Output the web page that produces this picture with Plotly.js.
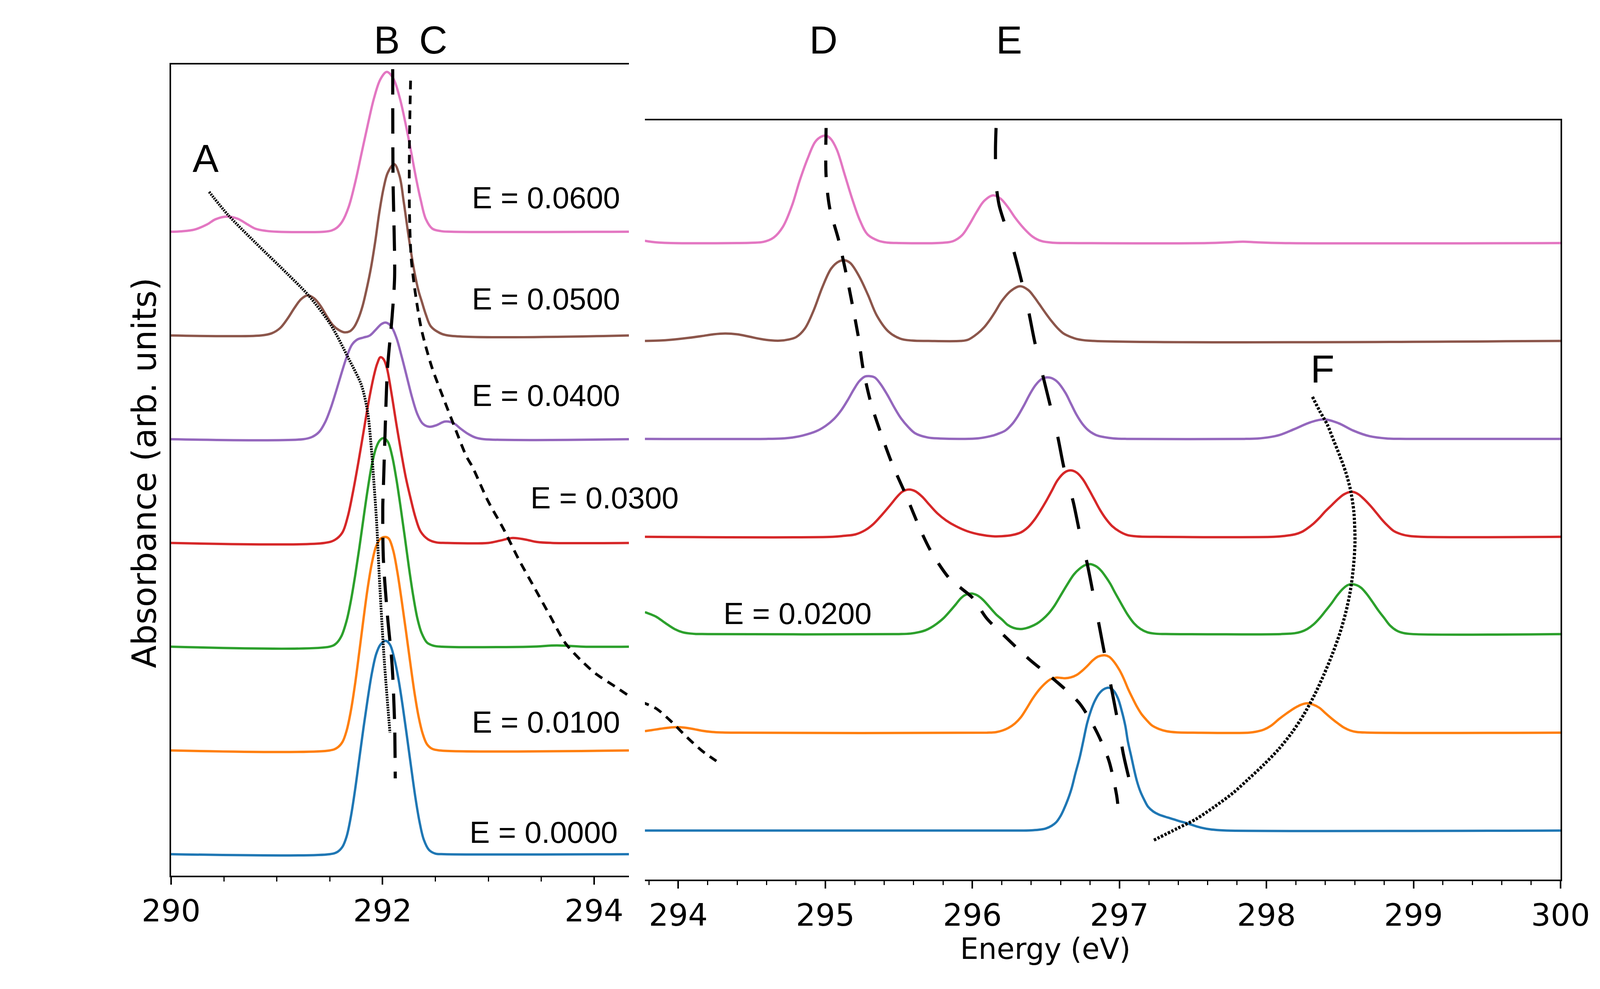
<!DOCTYPE html>
<html>
<head>
<meta charset="utf-8">
<script src="https://cdn.plot.ly/plotly-3.0.1.min.js"></script>
<style>
html,body{margin:0;padding:0;background:#fff;}
#chart{width:4331px;height:2531px;}
</style>
</head>
<body>
<div id="chart"></div>
<script>
// ---------------- data ----------------
// Left panel (290 - 294.3 eV), curves offset by 1 unit each
const leftPinkX = [290.00, 290.10, 290.22, 290.34, 290.42, 290.53, 290.63, 290.72, 290.80, 290.90, 291.00, 291.45, 291.52, 291.57, 291.62, 291.68, 291.74, 291.80, 291.86, 291.92, 291.98, 292.04, 292.10, 292.16, 292.22, 292.27, 292.32, 292.36, 292.41, 292.47, 292.55, 292.65, 294.33];
const leftPinkY = [6.00, 6.004, 6.02, 6.07, 6.12, 6.146, 6.125, 6.072, 6.028, 6.008, 6.0, 6.0, 6.012, 6.04, 6.10, 6.24, 6.47, 6.75, 7.03, 7.29, 7.47, 7.54, 7.48, 7.30, 7.03, 6.77, 6.50, 6.31, 6.12, 6.03, 6.006, 6.0, 6.0];

const leftBrownX = [290.00, 290.85, 290.95, 291.03, 291.10, 291.17, 291.23, 291.29, 291.35, 291.41, 291.47, 291.53, 291.59, 291.64, 291.69, 291.73, 291.77, 291.81, 291.85, 291.89, 291.93, 291.97, 292.01, 292.05, 292.11, 292.16, 292.20, 292.25, 292.30, 292.34, 292.37, 292.41, 292.455, 292.53, 292.62, 294.33];
const leftBrownY = [5.00, 5.00, 5.02, 5.07, 5.16, 5.27, 5.35, 5.386, 5.36, 5.29, 5.19, 5.10, 5.05, 5.03, 5.04, 5.08, 5.16, 5.28, 5.45, 5.65, 5.90, 6.19, 6.42, 6.57, 6.652, 6.54, 6.29, 5.93, 5.62, 5.43, 5.33, 5.20, 5.09, 5.03, 5.0, 5.0];

const leftPurpleX = [290.00, 291.25, 291.33, 291.40, 291.46, 291.51, 291.56, 291.61, 291.66, 291.71, 291.76, 291.82, 291.88, 291.94, 291.99, 292.03, 292.08, 292.13, 292.18, 292.23, 292.28, 292.33, 292.38, 292.44, 292.51, 292.59, 292.67, 292.74, 292.81, 292.88, 292.96, 294.33];
const leftPurpleY = [4.00, 4.00, 4.02, 4.07, 4.17, 4.30, 4.46, 4.63, 4.79, 4.91, 4.96, 4.98, 5.00, 5.06, 5.11, 5.124, 5.09, 4.98, 4.80, 4.60, 4.40, 4.24, 4.15, 4.12, 4.135, 4.17, 4.155, 4.10, 4.05, 4.015, 4.0, 4.0];

const leftRedX = [290.00, 291.45, 291.55, 291.62, 291.67, 291.72, 291.77, 291.82, 291.87, 291.92, 291.95, 291.98, 292.01, 292.04, 292.08, 292.13, 292.18, 292.22, 292.265, 292.31, 292.36, 292.43, 292.51, 292.60, 293.00, 293.11, 293.23, 293.35, 293.46, 293.60, 294.33];
const leftRedY = [3.00, 3.00, 3.03, 3.10, 3.25, 3.49, 3.77, 4.07, 4.37, 4.62, 4.73, 4.79, 4.77, 4.69, 4.47, 4.15, 3.85, 3.63, 3.43, 3.25, 3.11, 3.035, 3.005, 3.0, 3.0, 3.022, 3.048, 3.033, 3.009, 3.0, 3.0];

const leftGreenX = [290.00, 291.50, 291.56, 291.61, 291.66, 291.70, 291.74, 291.78, 291.82, 291.86, 291.90, 291.94, 291.975, 292.01, 292.05, 292.09, 292.13, 292.17, 292.21, 292.25, 292.29, 292.33, 292.37, 292.42, 292.48, 292.56, 293.40, 293.65, 293.90, 294.33];
const leftGreenY = [2.00, 2.00, 2.03, 2.10, 2.25, 2.44, 2.68, 2.95, 3.24, 3.52, 3.76, 3.92, 3.99, 4.01, 3.975, 3.84, 3.62, 3.35, 3.06, 2.76, 2.49, 2.27, 2.13, 2.04, 2.01, 2.00, 2.00, 2.012, 2.00, 2.00];

const leftOrangeX = [290.00, 291.50, 291.57, 291.62, 291.66, 291.70, 291.74, 291.78, 291.82, 291.86, 291.90, 291.94, 291.98, 292.03, 292.06, 292.10, 292.14, 292.18, 292.22, 292.26, 292.30, 292.34, 292.38, 292.42, 292.47, 292.54, 294.33];
const leftOrangeY = [1.00, 1.00, 1.025, 1.08, 1.19, 1.38, 1.64, 1.95, 2.27, 2.57, 2.81, 2.97, 3.04, 3.057, 3.04, 2.93, 2.72, 2.45, 2.16, 1.86, 1.57, 1.33, 1.16, 1.06, 1.015, 1.00, 1.00];

const leftBlueX = [290.00, 291.50, 291.57, 291.62, 291.66, 291.70, 291.74, 291.78, 291.82, 291.86, 291.90, 291.94, 291.98, 292.03, 292.07, 292.11, 292.15, 292.19, 292.23, 292.27, 292.31, 292.35, 292.39, 292.44, 292.50, 292.58, 294.33];
const leftBlueY = [0.00, 0.00, 0.02, 0.07, 0.17, 0.36, 0.62, 0.92, 1.22, 1.50, 1.75, 1.93, 2.02, 2.056, 2.02, 1.89, 1.69, 1.43, 1.14, 0.84, 0.55, 0.31, 0.14, 0.04, 0.005, 0.00, 0.00];

// Right panel (293.8 - 300 eV)
const rightPinkX = [293.773, 293.82, 293.87, 293.95, 294.40, 294.50, 294.58, 294.648, 294.711, 294.774, 294.826, 294.879, 294.931, 294.973, 295.005, 295.036, 295.078, 295.131, 295.183, 295.236, 295.288, 295.362, 295.42, 295.50, 295.80, 295.87, 295.93, 295.98, 296.03, 296.08, 296.14, 296.19, 296.24, 296.29, 296.35, 296.41, 296.47, 296.55, 296.65, 297.60, 297.75, 297.84, 297.93, 298.10, 300.0];
const rightPinkY = [6.023, 6.012, 6.005, 6.0, 6.0, 6.003, 6.012, 6.055, 6.165, 6.386, 6.639, 6.860, 7.033, 7.087, 7.096, 7.065, 6.954, 6.702, 6.449, 6.228, 6.086, 6.023, 6.005, 6.0, 6.003, 6.02, 6.08, 6.19, 6.32, 6.43, 6.487, 6.455, 6.37, 6.26, 6.15, 6.065, 6.02, 6.003, 6.0, 6.0, 6.008, 6.014, 6.008, 6.0, 6.0];

const rightBrownX = [293.773, 293.87, 293.95, 294.06, 294.16, 294.24, 294.32, 294.40, 294.48, 294.56, 294.63, 294.69, 294.75, 294.80, 294.86, 294.92, 294.98, 295.04, 295.09, 295.13, 295.17, 295.23, 295.29, 295.35, 295.43, 295.51, 295.59, 295.70, 295.92, 295.97, 296.035, 296.08, 296.12, 296.16, 296.20, 296.26, 296.325, 296.38, 296.42, 296.455, 296.50, 296.54, 296.58, 296.62, 296.67, 296.71, 296.79, 300.0];
const rightBrownY = [5.00, 5.004, 5.012, 5.03, 5.05, 5.068, 5.076, 5.068, 5.045, 5.02, 5.006, 5.003, 5.015, 5.038, 5.125, 5.31, 5.55, 5.74, 5.81, 5.824, 5.795, 5.66, 5.47, 5.26, 5.095, 5.023, 5.004, 5.0, 5.0, 5.012, 5.076, 5.14, 5.218, 5.31, 5.408, 5.51, 5.559, 5.52, 5.45, 5.376, 5.28, 5.20, 5.13, 5.076, 5.04, 5.02, 5.003, 5.0];

const rightPurpleX = [293.773, 294.60, 294.70, 294.78, 294.843, 294.938, 295.004, 295.061, 295.108, 295.156, 295.194, 295.232, 295.270, 295.298, 295.336, 295.374, 295.422, 295.469, 295.516, 295.564, 295.611, 295.697, 295.78, 295.95, 296.04, 296.10, 296.143, 296.18, 296.224, 296.27, 296.308, 296.35, 296.392, 296.43, 296.47, 296.507, 296.54, 296.58, 296.633, 296.67, 296.707, 296.75, 296.791, 296.84, 296.896, 296.96, 297.05, 297.85, 297.94, 298.01, 298.09, 298.19, 298.30, 298.393, 298.49, 298.59, 298.70, 298.82, 298.95, 300.0];
const rightPurpleY = [4.00, 4.00, 4.004, 4.015, 4.033, 4.078, 4.135, 4.207, 4.292, 4.406, 4.506, 4.591, 4.637, 4.641, 4.627, 4.563, 4.449, 4.321, 4.207, 4.121, 4.057, 4.014, 4.004, 4.0, 4.006, 4.02, 4.035, 4.055, 4.085, 4.15, 4.23, 4.34, 4.46, 4.55, 4.61, 4.628, 4.62, 4.58, 4.47, 4.36, 4.25, 4.15, 4.085, 4.04, 4.018, 4.005, 4.0, 4.0, 4.004, 4.015, 4.04, 4.10, 4.17, 4.199, 4.16, 4.085, 4.028, 4.004, 4.0, 4.0];

const rightRedX = [293.773, 295.05, 295.127, 295.203, 295.270, 295.327, 295.384, 295.441, 295.488, 295.526, 295.569, 295.611, 295.659, 295.706, 295.763, 295.820, 295.887, 295.962, 296.048, 296.143, 296.20, 296.27, 296.33, 296.38, 296.42, 296.46, 296.50, 296.54, 296.58, 296.63, 296.67, 296.71, 296.75, 296.79, 296.83, 296.87, 296.91, 296.95, 297.00, 297.05, 297.12, 297.25, 298.05, 298.12, 298.193, 298.24, 298.277, 298.32, 298.361, 298.40, 298.445, 298.49, 298.529, 298.578, 298.62, 298.66, 298.708, 298.75, 298.781, 298.82, 298.865, 298.92, 298.97, 299.05, 300.0];
const rightRedY = [3.00, 3.00, 3.010, 3.024, 3.067, 3.131, 3.223, 3.323, 3.409, 3.463, 3.483, 3.466, 3.409, 3.330, 3.238, 3.169, 3.109, 3.059, 3.024, 3.005, 3.006, 3.018, 3.045, 3.10, 3.17, 3.26, 3.36, 3.47, 3.58, 3.66, 3.678, 3.655, 3.59, 3.49, 3.38, 3.27, 3.18, 3.11, 3.055, 3.02, 3.004, 3.0, 3.0, 3.008, 3.025, 3.05, 3.085, 3.135, 3.195, 3.26, 3.325, 3.39, 3.435, 3.46, 3.44, 3.39, 3.315, 3.24, 3.183, 3.12, 3.06, 3.025, 3.009, 3.0, 3.0];

const rightGreenX = [293.773, 293.81, 293.85, 293.91, 293.975, 294.03, 294.10, 294.20, 295.50, 295.58, 295.635, 295.68, 295.719, 295.76, 295.803, 295.85, 295.887, 295.92, 295.95, 295.993, 296.03, 296.07, 296.119, 296.16, 296.203, 296.24, 296.28, 296.325, 296.36, 296.392, 296.44, 296.476, 296.52, 296.56, 296.60, 296.644, 296.69, 296.728, 296.765, 296.802, 296.84, 296.875, 296.91, 296.938, 296.97, 297.00, 297.03, 297.058, 297.10, 297.142, 297.19, 297.25, 297.35, 298.10, 298.19, 298.235, 298.277, 298.32, 298.361, 298.40, 298.445, 298.48, 298.519, 298.55, 298.582, 298.615, 298.645, 298.68, 298.718, 298.76, 298.802, 298.84, 298.886, 298.93, 298.99, 300.0];
const rightGreenY = [2.231, 2.21, 2.184, 2.121, 2.058, 2.025, 2.01, 2.007, 2.007, 2.012, 2.026, 2.045, 2.074, 2.115, 2.168, 2.245, 2.31, 2.37, 2.405, 2.421, 2.405, 2.36, 2.279, 2.21, 2.153, 2.10, 2.07, 2.058, 2.065, 2.08, 2.115, 2.155, 2.22, 2.30, 2.40, 2.51, 2.615, 2.673, 2.71, 2.721, 2.70, 2.655, 2.585, 2.52, 2.43, 2.35, 2.27, 2.20, 2.115, 2.06, 2.025, 2.01, 2.007, 2.007, 2.015, 2.03, 2.058, 2.105, 2.168, 2.24, 2.326, 2.40, 2.468, 2.505, 2.516, 2.505, 2.478, 2.42, 2.342, 2.25, 2.168, 2.095, 2.042, 2.018, 2.007, 2.007];

const rightOrangeX = [293.773, 293.82, 293.87, 293.93, 293.99, 294.04, 294.10, 294.16, 294.23, 294.30, 294.40, 296.10, 296.16, 296.20, 296.245, 296.29, 296.33, 296.37, 296.41, 296.455, 296.50, 296.535, 296.57, 296.60, 296.63, 296.67, 296.71, 296.745, 296.78, 296.82, 296.855, 296.90, 296.93, 296.96, 297.00, 297.03, 297.058, 297.09, 297.121, 297.15, 297.184, 297.22, 297.268, 297.32, 297.39, 297.50, 297.88, 297.93, 297.983, 298.03, 298.088, 298.14, 298.193, 298.235, 298.277, 298.32, 298.361, 298.40, 298.445, 298.49, 298.529, 298.57, 298.613, 298.68, 300.0];
const rightOrangeY = [1.016, 1.026, 1.038, 1.05, 1.057, 1.052, 1.038, 1.02, 1.007, 1.002, 1.0, 1.0, 1.005, 1.02, 1.048, 1.095, 1.158, 1.25, 1.348, 1.44, 1.51, 1.548, 1.562, 1.56, 1.556, 1.565, 1.59, 1.63, 1.679, 1.74, 1.777, 1.790, 1.775, 1.73, 1.64, 1.55, 1.45, 1.35, 1.26, 1.19, 1.13, 1.075, 1.038, 1.015, 1.003, 1.0, 1.0, 1.01, 1.032, 1.07, 1.142, 1.20, 1.253, 1.285, 1.30, 1.285, 1.253, 1.20, 1.142, 1.09, 1.05, 1.022, 1.007, 1.001, 1.0];

const rightBlueX = [293.773, 296.35, 296.41, 296.46, 296.50, 296.54, 296.57, 296.60, 296.62, 296.65, 296.675, 296.70, 296.73, 296.755, 296.78, 296.805, 296.83, 296.86, 296.89, 296.93, 296.96, 296.99, 297.016, 297.04, 297.058, 297.08, 297.10, 297.12, 297.142, 297.17, 297.195, 297.23, 297.268, 297.31, 297.352, 297.40, 297.457, 297.51, 297.562, 297.62, 297.668, 297.73, 300.0];
const rightBlueY = [0.0, 0.0, 0.003, 0.01, 0.022, 0.05, 0.085, 0.15, 0.211, 0.32, 0.432, 0.58, 0.748, 0.92, 1.095, 1.22, 1.316, 1.395, 1.44, 1.458, 1.43, 1.35, 1.221, 1.07, 0.906, 0.76, 0.622, 0.50, 0.401, 0.31, 0.243, 0.195, 0.164, 0.142, 0.123, 0.10, 0.076, 0.05, 0.028, 0.012, 0.005, 0.0, 0.0];

// Guide lines A-F
const guideAX = [290.36, 290.54, 290.80, 291.10, 291.30, 291.51, 291.68, 291.80, 291.86, 291.90, 291.914, 291.944, 291.973, 292.017, 292.07];
const guideAY = [6.384, 6.160, 5.892, 5.594, 5.386, 5.103, 4.775, 4.522, 4.254, 3.837, 3.643, 3.197, 2.601, 1.856, 1.171];
const guideBX = [292.096, 292.099, 292.114, 292.090, 292.046, 292.026, 292.008, 292.002, 292.008, 292.046, 292.090, 292.114, 292.120];
const guideBY = [7.567, 6.518, 5.565, 5.177, 4.671, 4.134, 3.539, 3.345, 2.839, 2.303, 1.826, 1.260, 0.730];
const guideCLeftX = [292.265, 292.254, 292.254, 292.271, 292.309, 292.368, 292.464, 292.573, 292.675, 292.792, 292.850, 292.997, 293.143, 293.289, 293.435, 293.581, 293.728, 293.874, 294.020, 294.196, 294.371];
const guideCLeftY = [7.456, 6.816, 6.220, 5.743, 5.415, 5.058, 4.701, 4.403, 4.134, 3.837, 3.733, 3.405, 3.137, 2.839, 2.571, 2.303, 2.035, 1.871, 1.737, 1.618, 1.498];
const guideCRightX = [293.744, 293.849, 293.954, 294.059, 294.164, 294.259];
const guideCRightY = [1.316, 1.247, 1.111, 0.953, 0.811, 0.710];
const guideDX = [295.005, 295.005, 295.030, 295.089, 295.141, 295.183, 295.226, 295.257, 295.310, 295.372, 295.457, 295.541, 295.656, 295.726, 295.845, 295.929, 296.003, 296.097, 296.224, 296.392, 296.560, 296.728, 296.843, 296.928, 296.980, 296.991];
const guideDY = [7.175, 6.686, 6.355, 6.039, 5.692, 5.376, 5.029, 4.714, 4.366, 4.082, 3.735, 3.451, 3.040, 2.831, 2.573, 2.468, 2.374, 2.168, 1.979, 1.742, 1.537, 1.300, 1.016, 0.716, 0.369, 0.243];
const guideEX = [296.161, 296.157, 296.161, 296.182, 296.203, 296.276, 296.329, 296.381, 296.423, 296.476, 296.528, 296.581, 296.623, 296.686, 296.728, 296.781, 296.823, 296.865, 296.907, 296.943, 296.991, 297.027, 297.08];
const guideEY = [7.175, 6.955, 6.607, 6.386, 6.276, 5.945, 5.644, 5.313, 4.997, 4.666, 4.350, 4.019, 3.703, 3.356, 3.056, 2.725, 2.405, 2.073, 1.742, 1.474, 1.095, 0.779, 0.44];
const guideFX = [298.313, 298.361, 298.414, 298.456, 298.498, 298.540, 298.571, 298.594, 298.602, 298.592, 298.571, 298.540, 298.498, 298.445, 298.390, 298.327, 298.256, 298.176, 298.084, 297.983, 297.878, 297.773, 297.646, 297.520, 297.394, 297.226];
const guideFY = [4.429, 4.287, 4.145, 3.987, 3.830, 3.656, 3.482, 3.26, 2.95, 2.70, 2.453, 2.231, 2.010, 1.790, 1.591, 1.386, 1.190, 1.007, 0.833, 0.675, 0.527, 0.385, 0.243, 0.117, 0.022, -0.104];

// Text
const fieldLabels = ["E = 0.0600", "E = 0.0500", "E = 0.0400", "E = 0.0300", "E = 0.0200", "E = 0.0100", "E = 0.0000"];
const featureLetters = ["A", "B", "C", "D", "E", "F"];
const leftTicks = [290, 292, 294];
const rightTicks = [294, 295, 296, 297, 298, 299, 300];
const yTitle = "Absorbance (arb. units)";
const xTitle = "Energy (eV)";

const colors = {blue:'#1f77b4', orange:'#ff7f0e', green:'#2ca02c', red:'#d62728', purple:'#9467bd', brown:'#8c564b', pink:'#e377c2'};

// ---------------- build ----------------
const W = 4331, H = 2531;
const px = v => v / W;
const py = v => 1 - v / H;

function curve(x, y, color, panel) {
  return {x: x, y: y, type: 'scatter', mode: 'lines',
    xaxis: panel === 'L' ? 'x' : 'x2', yaxis: panel === 'L' ? 'y' : 'y2',
    line: {color: color, width: 6, shape: 'spline', smoothing: 1},
    hoverinfo: 'skip', showlegend: false};
}
function guide(x, y, panel, width, dash) {
  return {x: x, y: y, type: 'scatter', mode: 'lines',
    xaxis: panel === 'L' ? 'x' : 'x2', yaxis: panel === 'L' ? 'y' : 'y2',
    line: {color: '#000', width: width, dash: dash, shape: 'spline', smoothing: 0.8},
    hoverinfo: 'skip', showlegend: false};
}

const traces = [
  curve(leftBlueX, leftBlueY, colors.blue, 'L'),
  curve(leftOrangeX, leftOrangeY, colors.orange, 'L'),
  curve(leftGreenX, leftGreenY, colors.green, 'L'),
  curve(leftRedX, leftRedY, colors.red, 'L'),
  curve(leftPurpleX, leftPurpleY, colors.purple, 'L'),
  curve(leftBrownX, leftBrownY, colors.brown, 'L'),
  curve(leftPinkX, leftPinkY, colors.pink, 'L'),
  curve(rightBlueX, rightBlueY, colors.blue, 'R'),
  curve(rightOrangeX, rightOrangeY, colors.orange, 'R'),
  curve(rightGreenX, rightGreenY, colors.green, 'R'),
  curve(rightRedX, rightRedY, colors.red, 'R'),
  curve(rightPurpleX, rightPurpleY, colors.purple, 'R'),
  curve(rightBrownX, rightBrownY, colors.brown, 'R'),
  curve(rightPinkX, rightPinkY, colors.pink, 'R'),
  guide(guideAX, guideAY, 'L', 7, '4px,2.5px'),
  guide(guideBX, guideBY, 'L', 8, '65px,35px'),
  guide(guideCLeftX, guideCLeftY, 'L', 7, '22px,16px'),
  guide(guideCRightX, guideCRightY, 'R', 7, '22px,16px'),
  guide(guideDX, guideDY, 'R', 8, '43px,40px'),
  guide(guideEX, guideEY, 'R', 8, '80px,82px'),
  guide(guideFX, guideFY, 'R', 8, '6px,4px')
];

const tickFont = {family: 'DejaVu Sans', size: 79, color: '#000'};
const axBase = {showgrid: false, zeroline: false, showline: true, linecolor: '#000',
  ticks: 'outside', ticklen: 19, tickwidth: 4, tickcolor: '#000', tickfont: tickFont, fixedrange: true};

const annFont = {family: 'Liberation Sans, Arial, sans-serif', size: 78, color: '#000'};
const letterFont = {family: 'Liberation Sans, Arial, sans-serif', size: 100, color: '#000'};

// label placements (px in figure): [x, y, anchor]
const labelPos = [[1589, 506, 'right'], [1589, 765, 'right'], [1589, 1012, 'right'], [1357, 1274, 'left'],
                  [1851, 1570, 'left'], [1589, 1848, 'right'], [1583, 2130, 'right']];
const letterPos = [[526, 405], [990, 102], [1109, 102], [2108, 102], [2583, 102], [3385, 944]];

const annotations = [];
fieldLabels.forEach((t, i) => annotations.push({text: t, xref: 'paper', yref: 'paper',
  x: px(labelPos[i][0]), y: py(labelPos[i][1]), xanchor: labelPos[i][2], yanchor: 'middle',
  showarrow: false, font: annFont, borderpad: 0}));
featureLetters.forEach((t, i) => annotations.push({text: t, xref: 'paper', yref: 'paper',
  x: px(letterPos[i][0]), y: py(letterPos[i][1]), xanchor: 'center', yanchor: 'middle',
  showarrow: false, font: letterFont, borderpad: 0}));
annotations.push({text: yTitle, xref: 'paper', yref: 'paper', x: px(369), y: py(1210),
  xanchor: 'center', yanchor: 'middle', textangle: -90, showarrow: false,
  font: {family: 'DejaVu Sans', size: 85, color: '#000'}});
annotations.push({text: xTitle, xref: 'paper', yref: 'paper', x: px(2676), y: py(2428),
  xanchor: 'center', yanchor: 'middle', showarrow: false,
  font: {family: 'DejaVu Sans', size: 74, color: '#000'}});

const layout = {
  width: W, height: H,
  margin: {l: 0, r: 0, t: 0, b: 0, autoexpand: false},
  paper_bgcolor: '#fff', plot_bgcolor: 'rgba(0,0,0,0)',
  showlegend: false,
  font: {family: 'DejaVu Sans', color: '#000'},
  xaxis: Object.assign({}, axBase, {domain: [px(438), px(1610)], range: [290, 294.33], anchor: 'y',
    mirror: true, linewidth: 4, tickmode: 'array', tickvals: leftTicks, ticktext: leftTicks.map(String),
    minor: {ticks: 'outside', tickmode: 'linear', tick0: 290, dtick: 0.5, ticklen: 11, tickwidth: 3, tickcolor: '#000', showgrid: false}}),
  yaxis: {domain: [py(2240.6), py(165)], range: [-0.206, 7.612], anchor: 'x', showline: true, linecolor: '#000',
    linewidth: 4, ticks: '', showticklabels: false, showgrid: false, zeroline: false, fixedrange: true},
  xaxis2: Object.assign({}, axBase, {domain: [px(1651), px(3995)], range: [293.773, 300], anchor: 'y2',
    mirror: true, linewidth: 4, tickmode: 'array', tickvals: rightTicks, ticktext: rightTicks.map(String),
    minor: {ticks: 'outside', tickmode: 'linear', tick0: 293.8, dtick: 0.2, ticklen: 10, tickwidth: 3, tickcolor: '#000', showgrid: false}}),
  yaxis2: {domain: [py(2251.4), py(307.7)], range: [-0.502, 7.254], anchor: 'x2', side: 'right', showline: true,
    linecolor: '#000', linewidth: 4, ticks: '', showticklabels: false, showgrid: false, zeroline: false, fixedrange: true},
  annotations: annotations
};

Plotly.newPlot('chart', traces, layout, {staticPlot: true, displayModeBar: false});
</script>
</body>
</html>
